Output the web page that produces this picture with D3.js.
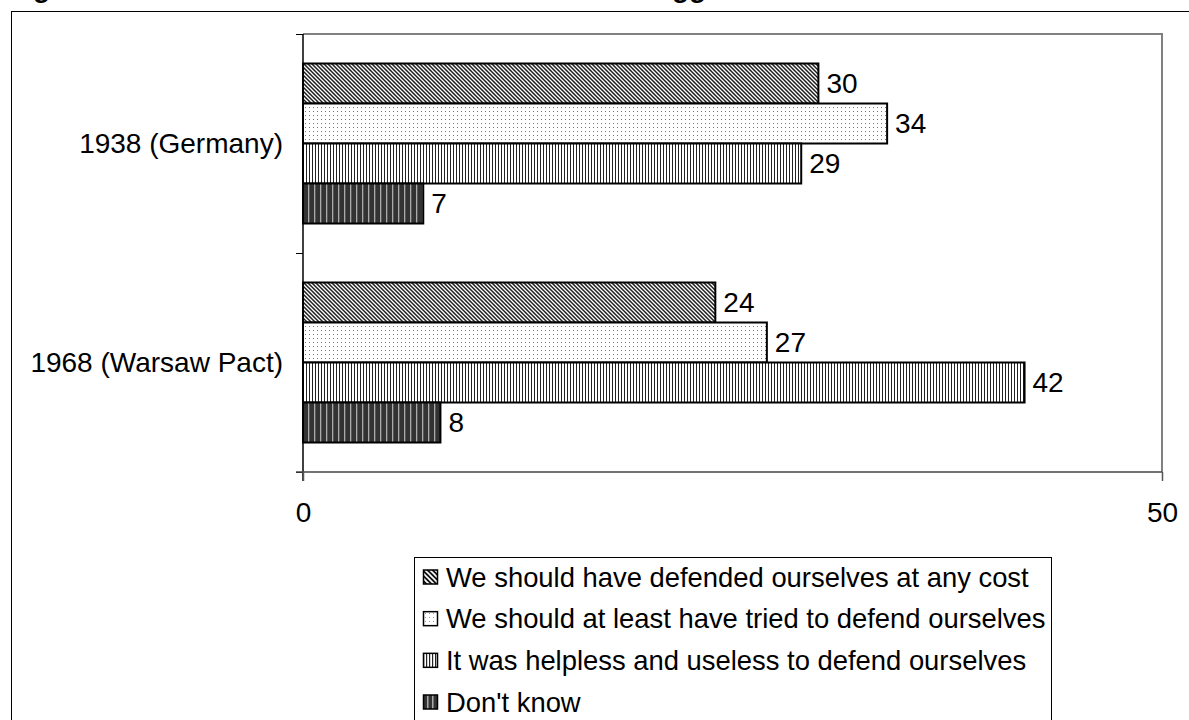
<!DOCTYPE html>
<html><head><meta charset="utf-8">
<script src="https://cdn.jsdelivr.net/npm/d3@7"></script>
<style>
html,body{margin:0;padding:0;background:#fff;overflow:hidden}
svg{display:block;font-family:"Liberation Sans",Arial,sans-serif}
</style></head>
<body>
<svg id="c" width="1189" height="720"></svg>
<script>
const categories = ["1938 (Germany)", "1968 (Warsaw Pact)"];
const seriesNames = [
  "We should have defended ourselves at any cost",
  "We should at least have tried to defend ourselves",
  "It was helpless and useless to defend ourselves",
  "Don't know"
];
const values1938 = [30, 34, 29, 7];
const values1968 = [24, 27, 42, 8];
const xTicks = [0, 50];
const titleText = "Figure 1: Attitudes towards the 1938 and 1968 aggression";

const FS = 28;
const LFS = 27.4;
const svg = d3.select("#c");
const defs = svg.append("defs");

// patterns
const p1 = defs.append("pattern").attr("id","pat0").attr("patternUnits","userSpaceOnUse").attr("width",4).attr("height",4);
p1.append("rect").attr("width",4).attr("height",4).attr("fill","#1e1e1e");
p1.append("path").attr("d","M0,0L4,4M-1,3L1,5M3,-1L5,1").attr("stroke","#fff").attr("stroke-width",1.3);

const p2 = defs.append("pattern").attr("id","pat1").attr("patternUnits","userSpaceOnUse").attr("width",4).attr("height",4);
p2.append("rect").attr("width",4).attr("height",4).attr("fill","#fff");
p2.append("rect").attr("x",1).attr("y",1).attr("width",1).attr("height",1).attr("fill","#777");

const p3 = defs.append("pattern").attr("id","pat2").attr("patternUnits","userSpaceOnUse").attr("width",3).attr("height",3);
p3.append("rect").attr("width",3).attr("height",3).attr("fill","#fff");
p3.append("rect").attr("x",0).attr("width",1).attr("height",3).attr("fill","#222");

const p4 = defs.append("pattern").attr("id","pat3").attr("patternUnits","userSpaceOnUse").attr("width",6).attr("height",6);
p4.append("rect").attr("width",6).attr("height",6).attr("fill","#333");
p4.append("rect").attr("x",2).attr("width",1.3).attr("height",6).attr("fill","#aaa");

// legend patterns (coarser)
const q1 = defs.append("pattern").attr("id","lpat0").attr("patternUnits","userSpaceOnUse").attr("width",5).attr("height",5);
q1.append("rect").attr("width",5).attr("height",5).attr("fill","#111");
q1.append("path").attr("d","M0,0L5,5M-1,4L1,6M4,-1L6,1").attr("stroke","#fff").attr("stroke-width",1.6);
const q2 = defs.append("pattern").attr("id","lpat1").attr("patternUnits","userSpaceOnUse").attr("width",4).attr("height",4);
q2.append("rect").attr("width",4).attr("height",4).attr("fill","#fff");
q2.append("rect").attr("x",1).attr("y",1).attr("width",1).attr("height",1).attr("fill","#999");
const q3 = defs.append("pattern").attr("id","lpat2").attr("patternUnits","userSpaceOnUse").attr("width",3).attr("height",3);
q3.append("rect").attr("width",3).attr("height",3).attr("fill","#fff");
q3.append("rect").attr("width",1.2).attr("height",3).attr("fill","#222");
const q4 = defs.append("pattern").attr("id","lpat3").attr("patternUnits","userSpaceOnUse").attr("width",5).attr("height",5);
q4.append("rect").attr("width",5).attr("height",5).attr("fill","#333");
q4.append("rect").attr("x",2).attr("width",1.5).attr("height",5).attr("fill","#aaa");

const fills = ["url(#pat0)","url(#pat1)","url(#pat2)","url(#pat3)"];
const lfills = ["url(#lpat0)","url(#lpat1)","url(#lpat2)","url(#lpat3)"];

// title (clipped at top, as in the reference)
const title = svg.append("text").attr("x",11).attr("y",-3).attr("font-size",FS).attr("font-weight","bold")
  .attr("fill","#000").text(titleText);
(function(){
  const node = title.node();
  const gx = node.getStartPositionOfChar(2).x;
  title.attr("x", 11 + (33 - gx));
  const idx = titleText.indexOf("gg");
  const pos = node.getStartPositionOfChar(idx).x;
  const nSpaces = titleText.slice(0, idx).split(" ").length - 1;
  title.attr("word-spacing", (672 - pos) / nSpaces);
})();

// outer frame
svg.append("rect").attr("x",11.5).attr("y",11.5).attr("width",1200).attr("height",800)
  .attr("fill","none").attr("stroke","#000").attr("stroke-width",1);

const L = 303, R = 1162, T = 34, B = 472;
const x = d3.scaleLinear().domain([0,50]).range([L,R]);
const y = d3.scaleBand().domain(categories).range([T,B]).padding(0);
const yi = d3.scaleBand().domain(d3.range(4)).range([0,y.bandwidth()]).paddingInner(0).paddingOuter(0.7375);

// plot border (gray)
svg.append("path").attr("d",`M${L},${T}H${R}V${B}`).attr("fill","none").attr("stroke","#808080").attr("stroke-width",2);

const data = [values1938, values1968];
categories.forEach((cat,ci)=>{
  const g = svg.append("g").attr("transform",`translate(0,${y(cat)})`);
  g.selectAll("rect").data(data[ci]).join("rect")
    .attr("x",x(0)).attr("y",(d,i)=>yi(i))
    .attr("width",d=>x(d)-x(0)).attr("height",yi.bandwidth())
    .attr("fill",(d,i)=>fills[i]).attr("stroke","#000").attr("stroke-width",2);
  g.selectAll("text").data(data[ci]).join("text")
    .attr("x",d=>x(d)+8).attr("y",(d,i)=>yi(i)+yi.bandwidth()/2)
    .attr("dy","0.355em").attr("font-size",FS).attr("fill","#000").text(d=>d);
});

// axes
const yAxis = d3.axisLeft(d3.scalePoint().domain([0,1,2]).range([T,B])).tickSize(7).tickFormat("");
const ya = svg.append("g").attr("transform",`translate(${L},0)`).call(yAxis);
ya.select(".domain").remove();
ya.selectAll("line").attr("stroke","#000");
svg.append("line").attr("x1",L).attr("x2",L).attr("y1",T).attr("y2",B+9).attr("stroke","#000").attr("stroke-width",1.5);

const xa = svg.append("g").attr("transform",`translate(0,${B})`).call(d3.axisBottom(x).tickValues(xTicks).tickSize(9).tickPadding(21));
xa.select(".domain").attr("d",`M${L-7},0H${R}`).attr("stroke","#444").attr("stroke-width",1.5);
xa.selectAll("line").attr("stroke","#555").attr("stroke-width",1.5);
xa.selectAll("text").attr("font-size",FS).attr("font-family","Liberation Sans, Arial, sans-serif").attr("fill","#000");

// category labels
svg.selectAll(".cat").data(categories).join("text").attr("class","cat")
  .attr("x",283).attr("y",d=>y(d)+y.bandwidth()/2).attr("dy","0.355em")
  .attr("text-anchor","end").attr("font-size",FS).attr("fill","#000").text(d=>d);

// legend
const lg = svg.append("g");
lg.append("rect").attr("x",414.5).attr("y",557.5).attr("width",637).attr("height",200)
  .attr("fill","#fff").attr("stroke","#000").attr("stroke-width",1);
const ly = d3.scalePoint().domain(d3.range(4)).range([577,702]);
seriesNames.forEach((n,i)=>{
  lg.append("rect").attr("x",423.5).attr("y",ly(i)-7).attr("width",14).attr("height",14)
    .attr("fill",lfills[i]).attr("stroke","#000").attr("stroke-width",1.5);
  lg.append("text").attr("x",446).attr("y",ly(i)).attr("dy","0.355em").attr("font-size",LFS).attr("fill","#000").text(n);
});
</script>
</body></html>
